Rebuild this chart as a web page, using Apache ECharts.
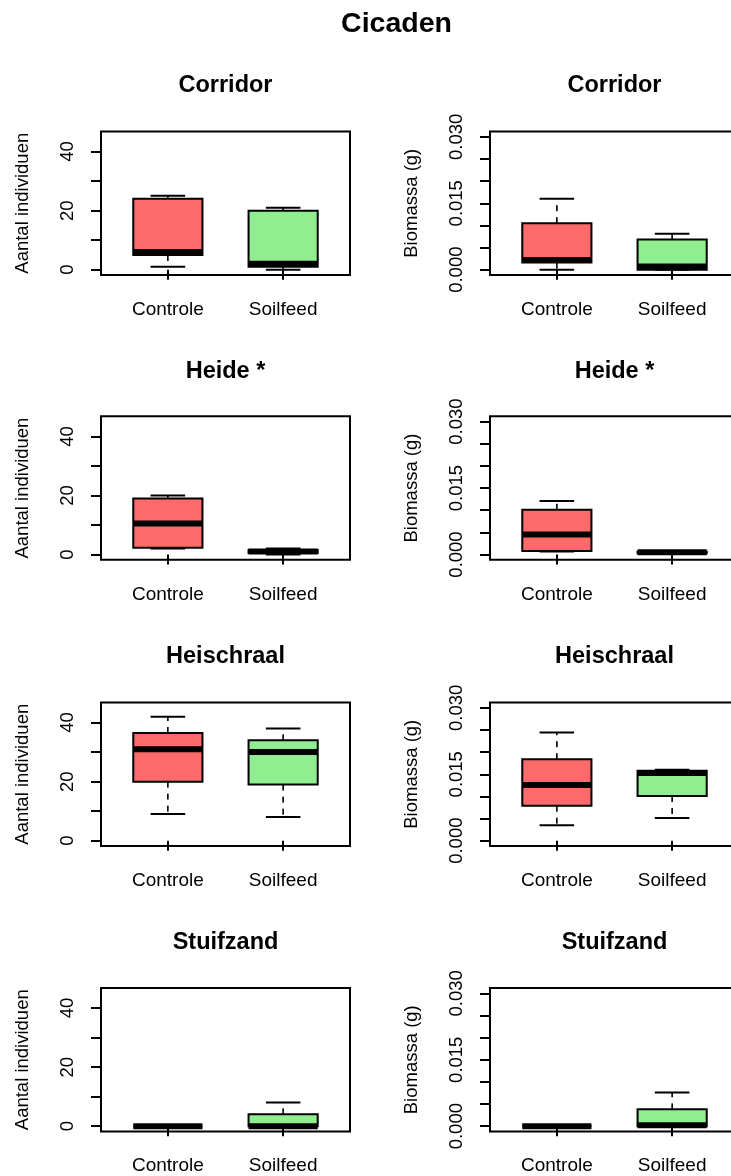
<!DOCTYPE html>
<html>
<head>
<meta charset="utf-8">
<script src="https://cdn.jsdelivr.net/npm/echarts@6/dist/echarts.min.js"></script>
<style>
  html, body { margin: 0; padding: 0; background: #ffffff; overflow: hidden; width: 731px; height: 1176px; }
  #chart { width: 760px; height: 1176px; }
</style>
</head>
<body>
<div id="chart"></div>
<script>
// Groups and habitats
const groups = ['Controle', 'Soilfeed'];
const habitats = ['Corridor', 'Heide *', 'Heischraal', 'Stuifzand'];
const groupColors = ['#FF6A6A', '#90EE90'];

// Five-number summaries per habitat: [min, Q1, median, Q3, max]
const aantalControle = [[1, 5, 6, 24, 25], [2, 2.3, 10.5, 19, 20], [9, 20, 31, 36.5, 42], [0, 0, 0, 0, 0]];
const aantalSoilfeed = [[0, 1, 2, 20, 21], [0, 0.5, 1, 1.5, 2], [8, 19, 30, 34, 38], [0, 0, 0, 4, 8]];
const biomassaControle = [[0, 0.0016, 0.0022, 0.0105, 0.016], [0.0007, 0.0008, 0.0045, 0.0101, 0.0121], [0.0035, 0.0079, 0.0126, 0.0184, 0.0244], [0, 0, 0, 0, 0]];
const biomassaSoilfeed = [[0, 0, 0.0007, 0.0068, 0.0081], [0.0002, 0.0003, 0.0005, 0.0006, 0.0008], [0.0051, 0.0101, 0.0153, 0.0158, 0.016], [0, 0, 0.0002, 0.0038, 0.0076]];

// Axis ticks and labels
const aantalTicks = [0, 10, 20, 30, 40];
const aantalLabels = [0, 20, 40];
const biomassaTicks = [0, 0.005, 0.01, 0.015, 0.02, 0.025, 0.03];
const biomassaLabels = [0, 0.015, 0.03];

// Layout
const FONT = 'Liberation Sans, Arial, Helvetica, sans-serif';
const colLeft = [101, 490];
const rowTop = [131.5, 416.3, 702.5, 988];
const boxW = 249, boxH = 143.5;
const titleTop = [73, 358.5, 644, 929.5];
const BOX_WIDTH = 0.6;   // box width in x-axis units
const STAPLE = 0.3;      // whisker cap width in x-axis units

const panels = [];
habitats.forEach((h, r) => {
  panels.push({ row: r, col: 0, title: h, name: 'Aantal individuen',
    data: [aantalControle[r], aantalSoilfeed[r]], range: [-1.8, 46.8],
    ticks: aantalTicks, labels: aantalLabels, fmt: v => String(v) });
  panels.push({ row: r, col: 1, title: h, name: 'Biomassa (g)',
    data: [biomassaControle[r], biomassaSoilfeed[r]], range: [-0.0012, 0.0312],
    ticks: biomassaTicks, labels: biomassaLabels, fmt: v => v.toFixed(3) });
});

function renderBox(params, api) {
  const x = api.value(0);
  const lo = api.value(1), q1 = api.value(2), med = api.value(3), q3 = api.value(4), hi = api.value(5);
  const half = api.size([BOX_WIDTH, 0])[0] / 2;
  const capHalf = api.size([STAPLE, 0])[0] / 2;
  const c = (v) => api.coord([x, v]);
  const pLo = c(lo), pQ1 = c(q1), pMed = c(med), pQ3 = c(q3), pHi = c(hi);
  const cx = pMed[0];
  const dash = { stroke: '#000', lineWidth: 1.6, lineDash: [6, 6] };
  return {
    type: 'group',
    children: [
      { type: 'line', shape: { x1: cx, y1: pQ3[1], x2: cx, y2: pHi[1] }, style: dash },
      { type: 'line', shape: { x1: cx, y1: pQ1[1], x2: cx, y2: pLo[1] }, style: dash },
      { type: 'line', shape: { x1: cx - capHalf, y1: pHi[1], x2: cx + capHalf, y2: pHi[1] }, style: { stroke: '#000', lineWidth: 2 } },
      { type: 'line', shape: { x1: cx - capHalf, y1: pLo[1], x2: cx + capHalf, y2: pLo[1] }, style: { stroke: '#000', lineWidth: 2 } },
      { type: 'rect', shape: { x: cx - half, y: pQ3[1], width: half * 2, height: pQ1[1] - pQ3[1] },
        style: { fill: groupColors[params.dataIndex], stroke: '#000', lineWidth: 2 } },
      { type: 'line', shape: { x1: cx - half, y1: pMed[1], x2: cx + half, y2: pMed[1] }, style: { stroke: '#000', lineWidth: 6 } }
    ]
  };
}

const option = {
  backgroundColor: '#ffffff',
  animation: false,
  title: [{
    text: 'Cicaden', left: 396.5, top: 10, textAlign: 'center', padding: 0,
    textStyle: { fontFamily: FONT, fontSize: 28.5, fontWeight: 'bold', color: '#000' }
  }].concat(panels.map(p => ({
    text: p.title, left: colLeft[p.col] + boxW / 2, top: titleTop[p.row] + 1, textAlign: 'center', padding: 0,
    textStyle: { fontFamily: FONT, fontSize: 23.5, fontWeight: 'bold', color: '#000' }
  }))),
  grid: panels.map(p => ({
    left: colLeft[p.col], top: rowTop[p.row], width: boxW, height: boxH,
    show: true, borderColor: '#000', borderWidth: 2, backgroundColor: 'transparent', containLabel: false
  })),
  xAxis: panels.map((p, i) => ({
    type: 'value', gridIndex: i, min: 0.42, max: 2.58,
    axisLine: { show: false },
    splitLine: { show: false },
    axisTick: { show: true, length: 10, customValues: [1, 2], lineStyle: { color: '#000', width: 2 } },
    axisLabel: { show: true, customValues: [1, 2], margin: 25, formatter: v => groups[Math.round(v) - 1],
      fontFamily: FONT, fontSize: 19, color: '#000' }
  })),
  yAxis: panels.map((p, i) => ({
    type: 'value', gridIndex: i, min: p.range[0], max: p.range[1],
    name: p.name, nameLocation: 'middle', nameGap: 68.5,
    nameTextStyle: { fontFamily: FONT, fontSize: 18.5, color: '#000' },
    axisLine: { show: false },
    splitLine: { show: false },
    axisTick: { show: true, length: 10, customValues: p.ticks, lineStyle: { color: '#000', width: 2 } },
    axisLabel: { show: true, customValues: p.labels, rotate: 90, margin: 23.5, formatter: p.fmt,
      fontFamily: FONT, fontSize: 18.5, color: '#000' }
  })),
  series: panels.map((p, i) => ({
    type: 'custom', xAxisIndex: i, yAxisIndex: i,
    renderItem: renderBox,
    encode: { x: 0, y: [1, 2, 3, 4, 5] },
    data: p.data.map((d, g) => [g + 1].concat(d))
  }))
};

const chart = echarts.init(document.getElementById('chart'), null, { renderer: 'canvas' });
chart.setOption(option);
</script>
</body>
</html>
